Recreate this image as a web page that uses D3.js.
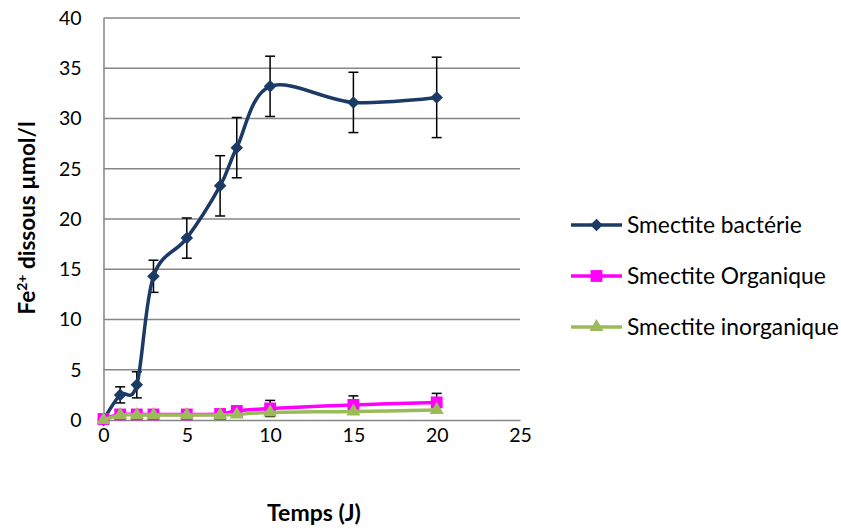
<!DOCTYPE html>
<html>
<head>
<meta charset="utf-8">
<script src="https://cdn.jsdelivr.net/npm/d3@7"></script>
<style>
  body { margin: 0; background: #fff; }
  svg { display: block; }
  text { font-family: Lato, "Open Sans", sans-serif; fill: #000; }
</style>
</head>
<body>
<svg id="chart" width="841" height="529"></svg>
<script>
// ---- data ----
const days = [0, 1, 2, 3, 5, 7, 8, 10, 15, 20];
const bacterie = [0, 2.5, 3.5, 14.3, 18.1, 23.3, 27.1, 33.2, 31.6, 32.1];
const bacterieErr = [0, 0.8, 1.3, 1.6, 2.0, 3.0, 3.0, 3.0, 3.0, 4.0];
const organique = [0.1, 0.55, 0.55, 0.55, 0.55, 0.6, 0.9, 1.15, 1.5, 1.75];
const organiqueErr = [0, 0, 0, 0, 0, 0, 0, 0.8, 0.9, 0.9];
const inorganique = [0, 0.5, 0.5, 0.5, 0.5, 0.5, 0.55, 0.75, 0.85, 1.0];
const seriesNames = ["Smectite bactérie", "Smectite Organique", "Smectite inorganique"];
const xTicks = [0, 5, 10, 15, 20, 25];
const yTicks = [0, 5, 10, 15, 20, 25, 30, 35, 40];

const svg = d3.select("#chart");
const x = d3.scaleLinear().domain([0, 25]).range([103.5, 520]);
const y = d3.scaleLinear().domain([0, 40]).range([420, 18]);

const gridColor = "#868686";

// gridlines
svg.append("g").selectAll("line").data(yTicks.filter(d => d > 0)).join("line")
  .attr("x1", x(0)).attr("x2", x(25))
  .attr("y1", d => y(d)).attr("y2", d => y(d))
  .attr("stroke", gridColor).attr("stroke-width", 1.5);

// axes
const yAxis = svg.append("g").attr("transform", `translate(${x(0)},0)`)
  .call(d3.axisLeft(y).tickValues(yTicks).tickSize(0).tickPadding(22));
yAxis.select(".domain").attr("stroke", gridColor).attr("stroke-width", 1.5);
yAxis.selectAll("text").attr("font-size", 19.5).attr("font-family", "Lato");

const xAxis = svg.append("g").attr("transform", `translate(0,${y(0)})`)
  .call(d3.axisBottom(x).tickValues(xTicks).tickSize(0).tickPadding(8));
xAxis.select(".domain").attr("stroke", gridColor).attr("stroke-width", 1.5);
xAxis.selectAll("text").attr("font-size", 19.5).attr("font-family", "Lato");

// titles
svg.append("text").attr("x", 314).attr("y", 521).attr("text-anchor", "middle")
  .attr("font-size", 23).attr("font-weight", "bold").text("Temps (J)");

const yt = svg.append("text").attr("transform", "translate(35,218) rotate(-90)")
  .attr("text-anchor", "middle").attr("font-size", 22.5).attr("font-weight", "bold");
yt.append("tspan").text("Fe");
yt.append("tspan").attr("dy", -8).attr("font-size", 14).text("2+");
yt.append("tspan").attr("dy", 8).text(" dissous µmol/l");

const curve = d3.curveCardinal.tension(0);
const line = vals => d3.line().curve(curve).x((d, i) => x(days[i])).y(d => y(d))(vals);

const colors = ["#1C3A66", "#FF00FF", "#9BBB59"];

function errorBars(vals, errs) {
  const g = svg.append("g").attr("stroke", "#000").attr("stroke-width", 1.5);
  days.forEach((d, i) => {
    if (!errs[i]) return;
    const cx = x(d), y1 = y(vals[i] + errs[i]), y2 = y(vals[i] - errs[i]);
    g.append("line").attr("x1", cx).attr("x2", cx).attr("y1", y1).attr("y2", y2);
    g.append("line").attr("x1", cx - 5).attr("x2", cx + 5).attr("y1", y1).attr("y2", y1);
    g.append("line").attr("x1", cx - 5).attr("x2", cx + 5).attr("y1", y2).attr("y2", y2);
  });
}

const diamond = d3.symbol().type(d3.symbolDiamond2).size(100)();
const square = d3.symbol().type(d3.symbolSquare).size(140)();
const triangle = d3.symbol().type(d3.symbolTriangle).size(85)();

function drawSeries(vals, errs, color, shape) {
  if (errs) errorBars(vals, errs);
  svg.append("path").attr("d", line(vals)).attr("fill", "none")
    .attr("stroke", color).attr("stroke-width", 3.5).attr("stroke-linejoin", "round");
  svg.append("g").selectAll("path").data(vals).join("path")
    .attr("transform", (d, i) => `translate(${x(days[i])},${y(d)})`)
    .attr("d", shape).attr("fill", color);
}

drawSeries(bacterie, bacterieErr, colors[0], diamond);
drawSeries(organique, organiqueErr, colors[1], square);
drawSeries(inorganique, null, colors[2], triangle);

// legend
const shapes = [diamond, square, triangle];
const leg = svg.append("g");
seriesNames.forEach((name, i) => {
  const ly = 225 + i * 51;
  leg.append("line").attr("x1", 571).attr("x2", 622).attr("y1", ly).attr("y2", ly)
    .attr("stroke", colors[i]).attr("stroke-width", 3.5);
  leg.append("path").attr("d", shapes[i]).attr("transform", `translate(596.5,${ly})`).attr("fill", colors[i]);
  leg.append("text").attr("x", 627).attr("y", ly + 8).attr("font-size", 22.8).text(name);
});
</script>
</body>
</html>
